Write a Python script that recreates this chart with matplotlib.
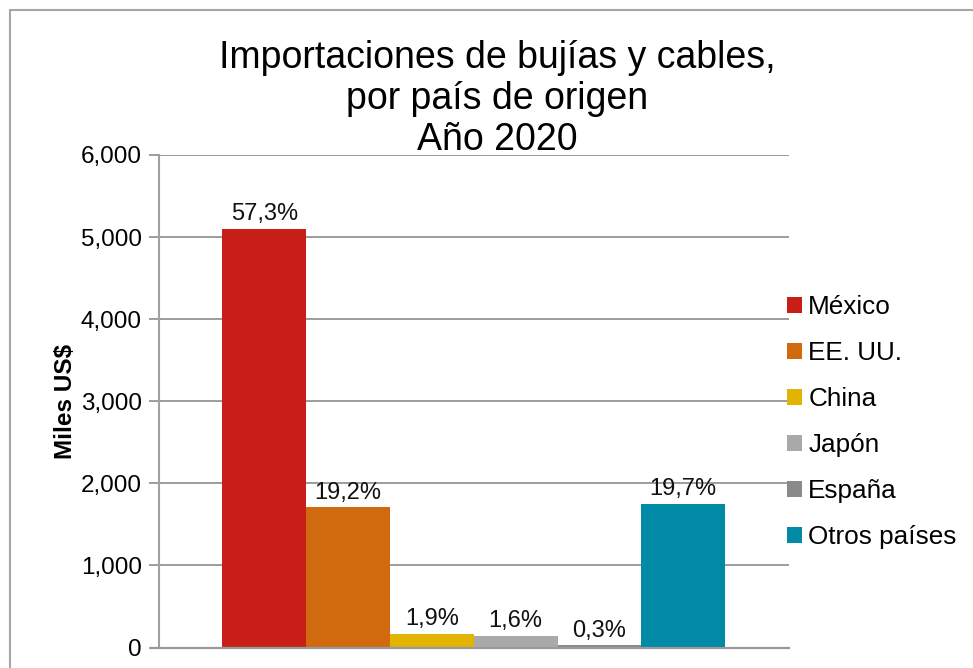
import numpy as np
import matplotlib.pyplot as plt
from matplotlib.patches import Rectangle
from matplotlib.ticker import FuncFormatter

plt.rcParams['font.family'] = ['Liberation Sans', 'DejaVu Sans']

# Datos: importaciones 2020 (miles US$)
paises = ["México", "EE. UU.", "China", "Japón", "España", "Otros países"]
valores = [5100, 1709, 169, 142, 27, 1753]
porcentajes = ["57,3%", "19,2%", "1,9%", "1,6%", "0,3%", "19,7%"]
colores = ["#C81E18", "#D16A0E", "#E0B400", "#A9A9A9", "#8A8A8A", "#008AA6"]

W, H = 973, 668
fig = plt.figure(figsize=(W / 100, H / 100), dpi=100)
ax = fig.add_axes([158.5 / W, 1 - 647.5 / H, (789 - 158.5) / W, (647.5 - 155) / H])

# Marco exterior gris del gráfico
fig.patches.append(Rectangle((9.5 / W, -0.1), 1.2, 1 - 10.5 / H + 0.1,
                             transform=fig.transFigure, fill=False,
                             edgecolor="#A6A6A6", linewidth=1.5))

n = len(paises)
pos = np.arange(n) - (n - 1) / 2
for x, v, p, c, lab in zip(pos, valores, porcentajes, colores, paises):
    ax.bar(x, v, width=1.0, color=c, label=lab, zorder=3)
    ax.text(x, v + 45, p, ha="center", va="bottom", fontsize=17, color="#111111")

ax.set_xlim(-3 - 64 / 84, 3 + 64 / 84)
ax.set_ylim(0, 6000)
ax.set_yticks(np.arange(0, 6001, 1000))
ax.yaxis.set_major_formatter(FuncFormatter(lambda v, _: f"{int(v):,}"))
ax.set_xticks([])
ax.grid(axis="y", color="#8C8C8C", linewidth=1.2, zorder=0)
ax.tick_params(axis="y", length=7, width=1.2, color="#8C8C8C", labelsize=17.5, pad=5)
for s in ["top", "right", "bottom"]:
    ax.spines[s].set_visible(False)
ax.spines["left"].set_color("#A0A0A0")
ax.spines["left"].set_linewidth(1.5)
ax.axhline(0, color="#9A9A9A", linewidth=1.6, zorder=4, clip_on=False,
           xmin=-8 / 631, xmax=1)
ax.set_ylabel("Miles US$", fontsize=17.5, fontweight="bold", labelpad=3)

fig.text(497 / W, 1 - 99 / H, "Importaciones de bujías y cables,\npor país de origen\nAño 2020",
         ha="center", va="center", fontsize=27, linespacing=1.18)

leg = ax.legend(loc="upper left", bbox_to_anchor=(777 / W, 1 - 285 / H),
                bbox_transform=fig.transFigure, frameon=False, fontsize=18.8,
                handlelength=0.55, handleheight=0.55, handletextpad=0.25,
                labelspacing=0.84, borderaxespad=0)

fig.savefig("out.png", dpi=100, facecolor="white")
